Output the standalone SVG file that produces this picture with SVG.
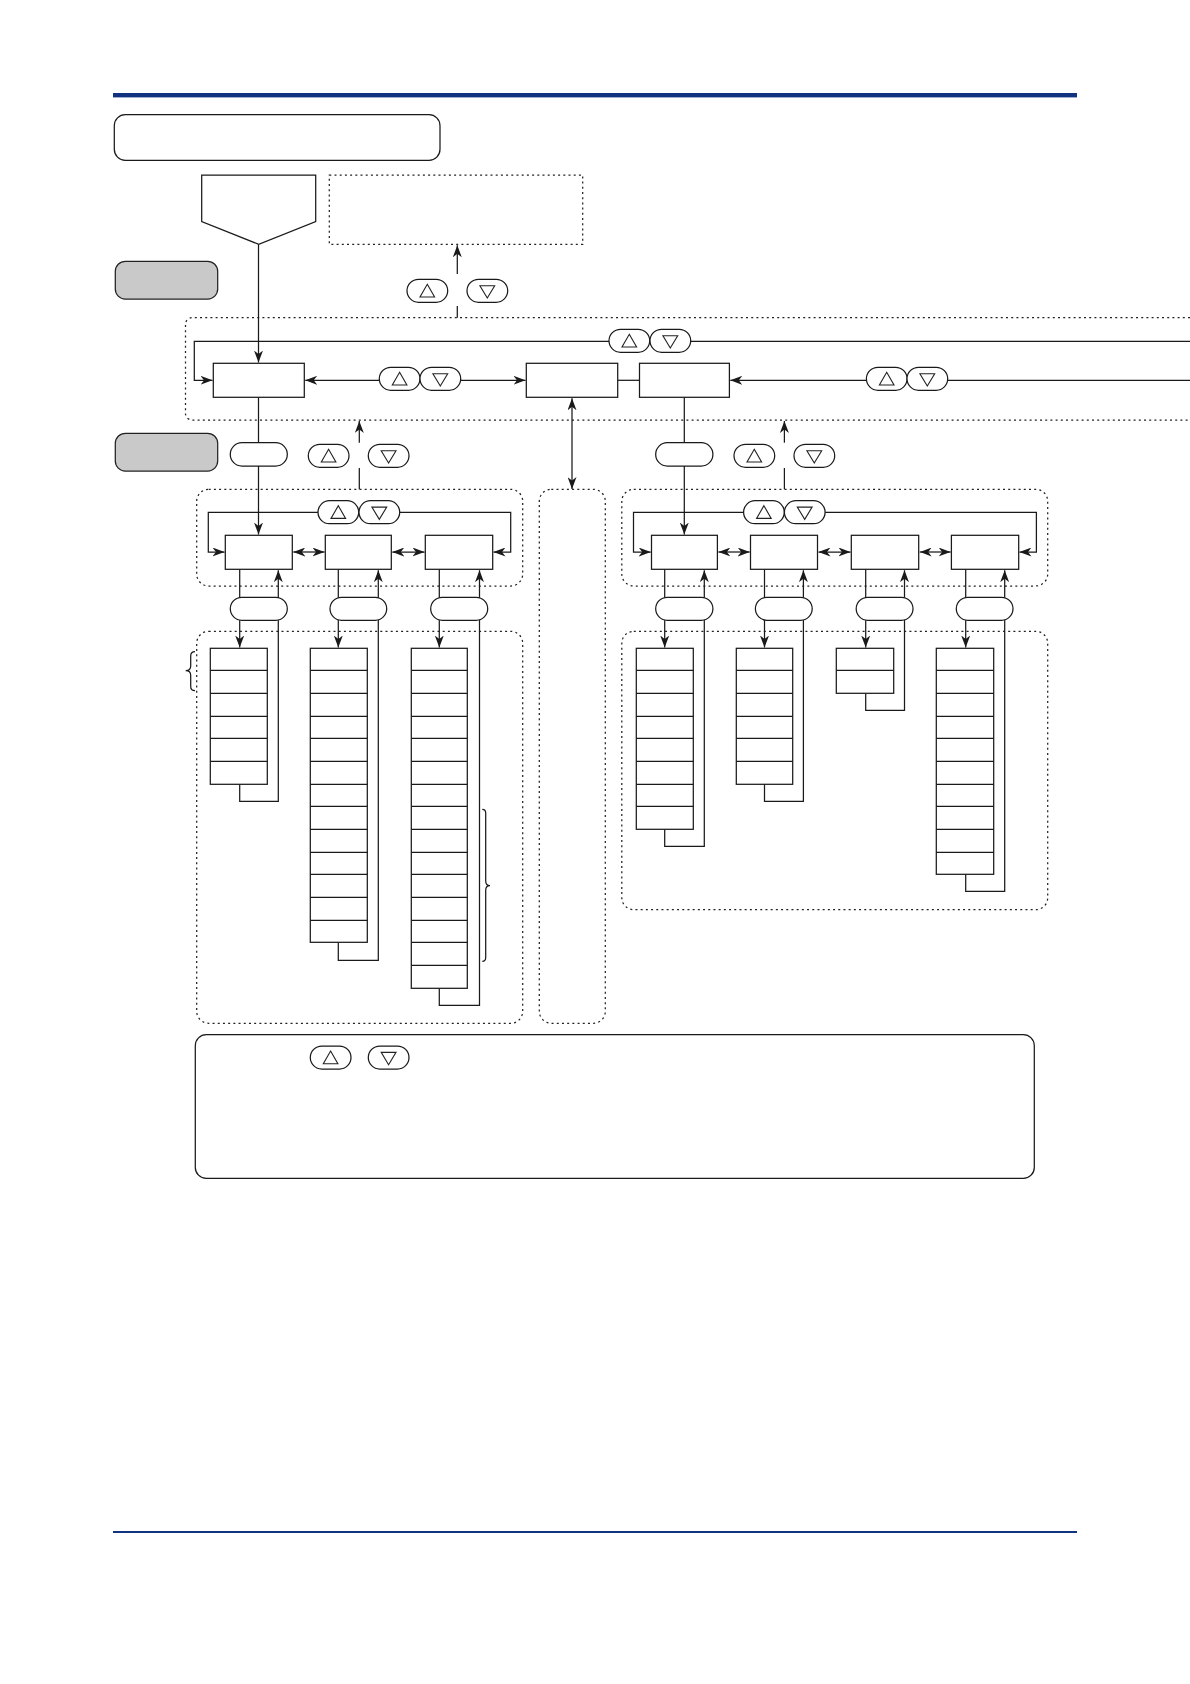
<svg xmlns="http://www.w3.org/2000/svg" xmlns:xlink="http://www.w3.org/1999/xlink" width="1190" height="1684" viewBox="0 0 1190 1684">
<style>
.s{fill:#fff;stroke:#1a1a1a;stroke-width:1.25}
.l{fill:none;stroke:#1a1a1a;stroke-width:1.25}
.a{marker-end:url(#arr)}
.d{marker-start:url(#arr);marker-end:url(#arr)}
.dot{fill:none;stroke:#222;stroke-width:1.25;stroke-dasharray:2 3.2}
.g{fill:#c9c9c9;stroke:#222;stroke-width:1.25}
.t{fill:#fff;stroke:#222;stroke-width:1.1}
.bar{fill:#12337f}
</style>
<defs>
<marker id="arr" markerUnits="userSpaceOnUse" viewBox="0 0 12 9" refX="12" refY="4.500" markerWidth="12" markerHeight="9" orient="auto-start-reverse"><path d="M0,0L12,4.500L0,9L3.500,4.500Z" fill="#1a1a1a"/></marker>
<g id="up"><rect class="s" x="0" y="0" width="40.7" height="23" rx="11.5"/><path class="t" d="M20.3,5L27.6,17.7H13Z"/></g>
<g id="dn"><rect class="s" x="0" y="0" width="40.7" height="23" rx="11.5"/><path class="t" d="M12.9,6.4H27.7L20.3,18.7Z"/></g>
</defs>
<rect class="bar" x="113" y="93" width="964" height="4.4"/>
<rect class="bar" x="113" y="1531" width="964" height="2"/>
<g id="regions">
<rect class="dot" x="329.3" y="175" width="253.4" height="69.3"/>
<path class="dot" d="M1190,317.7H192a6.5,6.5 0 0 0 -6.5,6.5V413.500a6.500,6.500 0 0 0 6.500,6.500H1190"/>
<rect class="dot" x="196.700" y="489.300" width="326" height="96.700" rx="12"/>
<rect class="dot" x="196.700" y="631.300" width="326" height="392" rx="12"/>
<rect class="dot" x="539.300" y="489.300" width="66" height="534" rx="12"/>
<rect class="dot" x="621.800" y="489.300" width="425.900" height="96.700" rx="12"/>
<rect class="dot" x="621.800" y="631.300" width="425.900" height="278.400" rx="12"/>
</g>
<g id="connectors">
<path class="l a" d="M258.500,244.300V362.500"/>
<path class="l a" d="M258.500,397.300V534.500"/>
<path class="l a" d="M684.300,397.300V534.500"/>
<path class="l d" d="M572,398.300V489"/>
<path class="l a" d="M457.300,274V245.300"/>
<path class="l" d="M457.300,306V317.700"/>
<path class="l a" d="M359.300,442.700V421"/>
<path class="l" d="M359.300,468V489.300"/>
<path class="l a" d="M784.400,442.700V421"/>
<path class="l" d="M784.400,468V489.300"/>
<path class="l a" d="M609,341.300H194.300V380.300H212.500"/>
<path class="l" d="M650,341.300H1190"/>
<path class="l a" d="M420,380.300H305.200"/>
<path class="l a" d="M420,380.300H525.500"/>
<path class="l" d="M617.700,380.300H639.500"/>
<path class="l a" d="M907,380.300H730.300"/>
<path class="l" d="M907,380.300H1190"/>
<path class="l a" d="M358.700,512.300H208.300V552H224.500"/>
<path class="l a" d="M358.700,512.300H510.700V552H493.500"/>
<path class="l a" d="M784.400,512.300H633.500V552H650.700"/>
<path class="l a" d="M784.400,512.300H1036.400V552H1019.500"/>
<path class="l d" d="M293.300,552H324.500"/>
<path class="l d" d="M392.300,552H424.500"/>
<path class="l d" d="M718.400,552H749.700"/>
<path class="l d" d="M818.500,552H850.500"/>
<path class="l d" d="M919.700,552H950.600"/>
<path class="l a" d="M239.700,569.300V647.500"/>
<path class="l a" d="M239.700,784.300V801.300H278.300V570.200"/>
<path class="l a" d="M338.300,569.300V647.500"/>
<path class="l a" d="M338.300,942.300V960.300H378.300V570.200"/>
<path class="l a" d="M439.300,569.300V647.500"/>
<path class="l a" d="M439.300,988.300V1005.300H479.500V570.200"/>
<path class="l a" d="M664.700,569.300V647.500"/>
<path class="l a" d="M664.700,829.300V846.300H704.300V570.200"/>
<path class="l a" d="M764.500,569.300V647.500"/>
<path class="l a" d="M764.500,784.300V801.300H803.400V570.200"/>
<path class="l a" d="M865.700,569.300V647.500"/>
<path class="l a" d="M865.700,693.300V710.300H904.500V570.200"/>
<path class="l a" d="M965.700,569.300V647.500"/>
<path class="l a" d="M965.700,874.300V891.300H1004.700V570.200"/>
</g>
<g id="title"><rect class="s" x="114.300" y="114.700" width="325.700" height="45.600" rx="11"/></g>
<g id="start"><path class="s" d="M201.700,175H315.700V221.700L258.700,244.300L201.700,221.700Z"/></g>
<g id="gray1"><rect class="g" x="115.300" y="261.300" width="102.400" height="37.700" rx="10"/></g>
<g id="gray2"><rect class="g" x="115.300" y="433.300" width="102.400" height="37.700" rx="10"/></g>
<g id="box-a"><rect class="s" x="213.300" y="363.300" width="91" height="34"/></g>
<g id="box-b"><rect class="s" x="526.300" y="363.300" width="91.400" height="34"/></g>
<g id="box-c"><rect class="s" x="639.500" y="363.300" width="89.900" height="34"/></g>
<g id="keys">
<use href="#up" x="407" y="279.300"/><use href="#dn" x="467" y="279.300"/>
<use href="#up" x="609" y="329.300"/><use href="#dn" x="650" y="329.300"/>
<use href="#up" x="379.300" y="367.300"/><use href="#dn" x="420" y="367.300"/>
<use href="#up" x="866.400" y="367.300"/><use href="#dn" x="907" y="367.300"/>
<use href="#up" x="308.300" y="444.300"/><use href="#dn" x="368.300" y="444.300"/>
<use href="#up" x="734" y="444.300"/><use href="#dn" x="794" y="444.300"/>
<use href="#up" x="318" y="500.700"/><use href="#dn" x="359" y="500.700"/>
<use href="#up" x="743.600" y="500.700"/><use href="#dn" x="784.400" y="500.700"/>
<use href="#up" x="310.300" y="1046"/><use href="#dn" x="368.300" y="1046"/>
</g>
<g id="pills">
<rect class="s" x="230.300" y="442.700" width="57" height="23.300" rx="11.600"/>
<rect class="s" x="655.700" y="442.700" width="57.200" height="23.300" rx="11.600"/>
<rect class="s" x="230.300" y="597.300" width="57" height="23" rx="11.500"/>
<rect class="s" x="330" y="597.300" width="56.700" height="23" rx="11.500"/>
<rect class="s" x="430.700" y="597.300" width="57" height="23" rx="11.500"/>
<rect class="s" x="655.700" y="597.300" width="57.200" height="23" rx="11.500"/>
<rect class="s" x="755.400" y="597.300" width="56.800" height="23" rx="11.500"/>
<rect class="s" x="856.200" y="597.300" width="56.800" height="23" rx="11.500"/>
<rect class="s" x="956.300" y="597.300" width="56.700" height="23" rx="11.500"/>
</g>
<g id="menus-left">
<rect class="s" x="225.300" y="535.300" width="67" height="34"/>
<rect class="s" x="325.300" y="535.300" width="66" height="34"/>
<rect class="s" x="425.300" y="535.300" width="67.400" height="34"/>
</g>
<g id="menus-right">
<rect class="s" x="651.500" y="535.300" width="65.900" height="34"/>
<rect class="s" x="750.500" y="535.300" width="67" height="34"/>
<rect class="s" x="851.300" y="535.300" width="67.400" height="34"/>
<rect class="s" x="951.400" y="535.300" width="67.300" height="34"/>
</g>
<g id="list-1"><rect class="s" x="210.300" y="648.300" width="57" height="136"/><path class="l" d="M210.300,670.300h57M210.300,693.300h57M210.300,716.300h57M210.300,738.300h57M210.300,761.300h57"/></g>
<g id="list-2"><rect class="s" x="310.300" y="648.300" width="57" height="294"/><path class="l" d="M310.300,670.300h57M310.300,693.300h57M310.300,716.300h57M310.300,738.300h57M310.300,761.300h57M310.300,784.300h57M310.300,806.300h57M310.300,829.300h57M310.300,852.300h57M310.300,874.300h57M310.300,897.300h57M310.300,920.300h57"/></g>
<g id="list-3"><rect class="s" x="411.300" y="648.300" width="56" height="340"/><path class="l" d="M411.300,670.300h56M411.300,693.300h56M411.300,716.300h56M411.300,738.300h56M411.300,761.300h56M411.300,784.300h56M411.300,806.300h56M411.300,829.300h56M411.300,852.300h56M411.300,874.300h56M411.300,897.300h56M411.300,920.300h56M411.300,942.300h56M411.300,965.300h56"/></g>
<g id="list-4"><rect class="s" x="636.300" y="648.300" width="57" height="181"/><path class="l" d="M636.300,670.300h57M636.300,693.300h57M636.300,716.300h57M636.300,738.300h57M636.300,761.300h57M636.300,784.300h57M636.300,806.300h57"/></g>
<g id="list-5"><rect class="s" x="736.300" y="648.300" width="56.400" height="136"/><path class="l" d="M736.300,670.300h56.400M736.300,693.300h56.400M736.300,716.300h56.400M736.300,738.300h56.400M736.300,761.300h56.400"/></g>
<g id="list-6"><rect class="s" x="836.300" y="648.300" width="57.400" height="45"/><path class="l" d="M836.300,670.300h57.400"/></g>
<g id="list-7"><rect class="s" x="936.300" y="648.300" width="57.400" height="226"/><path class="l" d="M936.300,670.300h57.400M936.300,693.300h57.400M936.300,716.300h57.400M936.300,738.300h57.400M936.300,761.300h57.400M936.300,784.300h57.400M936.300,806.300h57.400M936.300,829.300h57.400M936.300,852.300h57.400"/></g>
<g id="braces">
<path class="l" d="M195,651.700Q190.700,651.700 190.700,656V666Q190.700,670.700 185.700,670.700Q190.700,670.700 190.700,675.500V686.500Q190.700,690.700 195,690.700"/>
<path class="l" d="M482.300,809.300Q485.700,809.300 485.700,813V881Q485.700,885.700 490,885.700Q485.700,885.700 485.700,890.500V957.500Q485.700,961.300 482.300,961.300"/>
</g>
<g id="note"><rect class="l" x="195.300" y="1034.700" width="839" height="143.700" rx="11"/></g>
</svg>
